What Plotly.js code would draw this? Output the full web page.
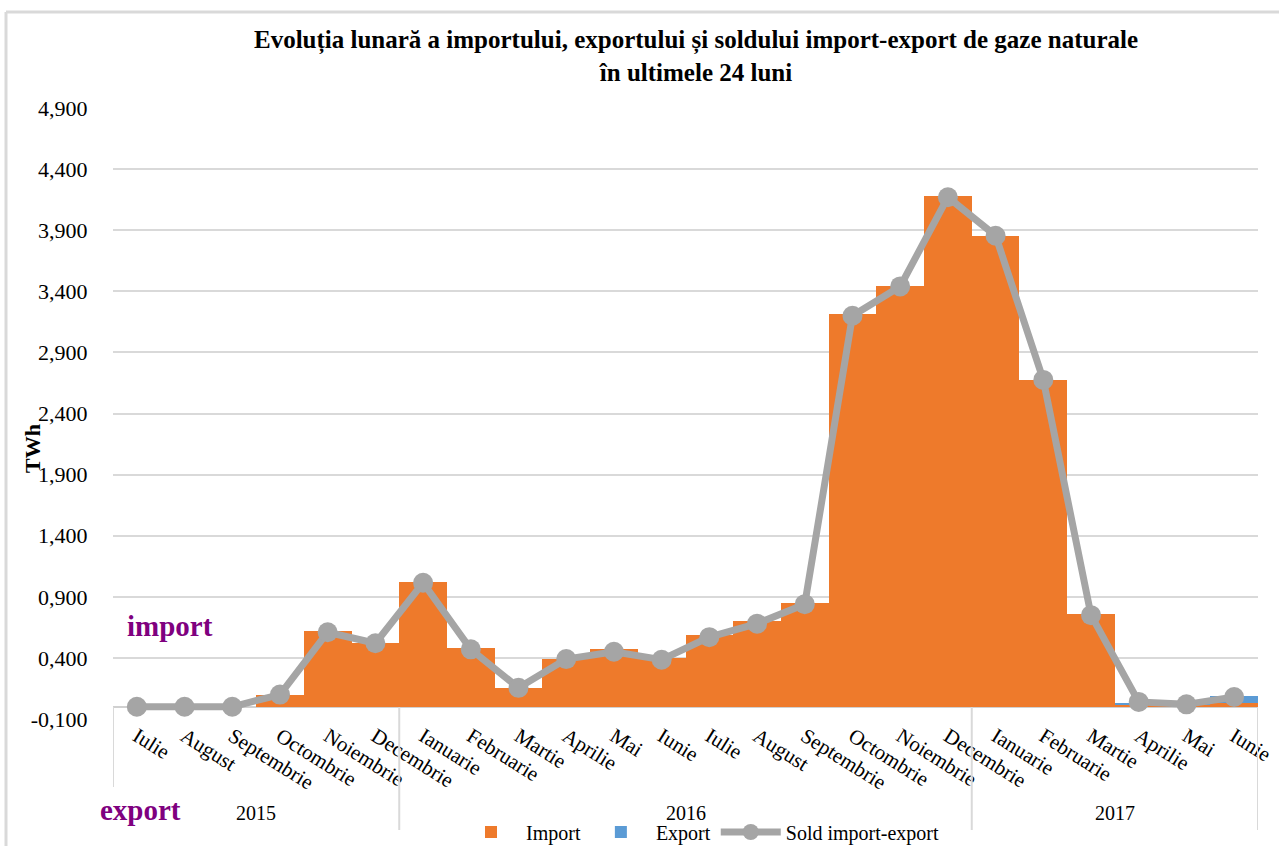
<!DOCTYPE html>
<html>
<head>
<meta charset="utf-8">
<script src="https://cdn.plot.ly/plotly-3.0.1.min.js"></script>
<style>
html,body{margin:0;padding:0;background:#fff;}
#chart{width:1279px;height:846px;}
</style>
</head>
<body>
<div id="chart"></div>
<script>
// Data (TWh)
const months = ['Iulie','August','Septembrie','Octombrie','Noiembrie','Decembrie',
  'Ianuarie','Februarie','Martie','Aprilie','Mai','Iunie','Iulie','August','Septembrie','Octombrie','Noiembrie','Decembrie',
  'Ianuarie','Februarie','Martie','Aprilie','Mai','Iunie'];
const years = ['2015','2016','2017'];
const yearStartIdx = [0, 6, 18];
const yearEndIdx = [5, 17, 23];
const importVals = [0, 0, 0, 0.10, 0.62, 0.52, 1.02, 0.48, 0.155, 0.39, 0.47, 0.40, 0.59, 0.70, 0.85, 3.215, 3.445, 4.18, 3.855, 2.675, 0.76, 0.015, 0.015, 0.03];
const exportVals = [0, 0, 0, 0, 0, 0, 0, 0, 0, 0, 0, 0, 0, 0, 0, 0, 0, 0, 0, 0, 0, 0.015, 0.015, 0.06];
const soldVals = [0, 0, 0, 0.10, 0.61, 0.52, 1.015, 0.47, 0.155, 0.39, 0.45, 0.385, 0.57, 0.68, 0.84, 3.20, 3.44, 4.17, 3.855, 2.675, 0.75, 0.04, 0.02, 0.08];
const yTickVals = [-0.1, 0.4, 0.9, 1.4, 1.9, 2.4, 2.9, 3.4, 3.9, 4.4, 4.9];
const yTickText = ['-0,100','0,400','0,900','1,400','1,900','2,400','2,900','3,400','3,900','4,400','4,900'];

const idx = months.map((m, i) => i);
const serif = 'Liberation Serif, Times New Roman, serif';

const traces = [
  {type:'bar', name:'Import', x: idx, y: importVals, marker:{color:'#EE7A2B'}},
  {type:'bar', name:'Export', x: idx, y: exportVals, marker:{color:'#5B9BD5'}},
  {type:'scatter', mode:'lines+markers', name:'Sold import-export', x: idx, y: soldVals,
   line:{color:'#A5A5A5', width:7}, marker:{color:'#A5A5A5', size:20}}
];

// plot area in pixels: x 113..1258, y 108..719
const PW = 1145, PH = 611;
const px = v => (v - 113) / PW;
const py = v => (719 - v) / PH;

const shapes = [];
const dividers = [-0.5, 5.5, 17.5, 23.5];
dividers.forEach((d, k) => {
  shapes.push({type:'line', xref:'x', yref:'paper', x0:d, x1:d, y0:py(707), y1: k===0 ? py(787) : py(830),
    line:{color:'#D9D9D9', width:2}});
});
// chart border
shapes.push({type:'line', xref:'paper', yref:'paper', x0:px(6), x1:px(1285), y0:py(12), y1:py(12), line:{color:'#D9D9D9', width:3}});
shapes.push({type:'line', xref:'paper', yref:'paper', x0:px(6), x1:px(6), y0:py(12), y1:py(850), line:{color:'#D9D9D9', width:3}});

const annotations = [];
years.forEach((yr, i) => {
  annotations.push({xref:'x', yref:'paper', x:(yearStartIdx[i] + yearEndIdx[i]) / 2, y:py(813),
    text: yr, showarrow:false, font:{family:serif, size:20, color:'#000'}, xanchor:'center', yanchor:'middle'});
});
annotations.push({xref:'paper', yref:'paper', x:px(33), y:py(449), text:'<b>TWh</b>', textangle:-90,
  showarrow:false, font:{family:serif, size:22, color:'#000'}, xanchor:'center', yanchor:'middle'});
annotations.push({xref:'paper', yref:'paper', x:px(170), y:py(626), text:'<b>import</b>',
  showarrow:false, font:{family:serif, size:29, color:'#7F007F'}, xanchor:'center', yanchor:'middle'});
annotations.push({xref:'paper', yref:'paper', x:px(140), y:py(810), text:'<b>export</b>',
  showarrow:false, font:{family:serif, size:29, color:'#7F007F'}, xanchor:'center', yanchor:'middle'});

const layout = {
  width:1279, height:846,
  margin:{l:113, r:21, t:108, b:127, autoexpand:false},
  paper_bgcolor:'#fff', plot_bgcolor:'#fff',
  barmode:'relative', bargap:0,
  showlegend:true,
  legend:{orientation:'h', x:px(700), xanchor:'center', y:py(832), yanchor:'middle',
    font:{family:serif, size:20, color:'#000'}, bgcolor:'rgba(0,0,0,0)', traceorder:'normal', itemwidth:60,
    tracegroupgap:0},
  title:{text:'<b>Evoluția lunară a importului, exportului și soldului import-export de gaze naturale<br>în ultimele 24 luni</b>',
    font:{family:serif, size:25, color:'#000'}, xref:'container', x:696/1279, xanchor:'center',
    yref:'container', y:1-48/846, yanchor:'top'},
  xaxis:{range:[-0.5, 23.5], tickmode:'array', tickvals: idx, ticktext: months, tickangle:32,
    showgrid:false, zeroline:false, showline:false, ticks:'', ticklen:0, automargin:false,
    tickfont:{family:serif, size:21, color:'#000'}, fixedrange:true},
  yaxis:{range:[-0.1, 4.9], tickmode:'array', tickvals: yTickVals, ticktext: yTickText, automargin:false,
    showgrid:true, gridcolor:'#D9D9D9', gridwidth:2, zeroline:true, zerolinecolor:'#D0D0D0', zerolinewidth:2,
    showline:false, ticks:'outside', ticklen:20, tickcolor:'rgba(0,0,0,0)',
    tickfont:{family:serif, size:22, color:'#000'}, fixedrange:true},
  shapes: shapes,
  annotations: annotations
};

Plotly.newPlot('chart', traces, layout, {displayModeBar:false, staticPlot:true});
</script>
</body>
</html>
